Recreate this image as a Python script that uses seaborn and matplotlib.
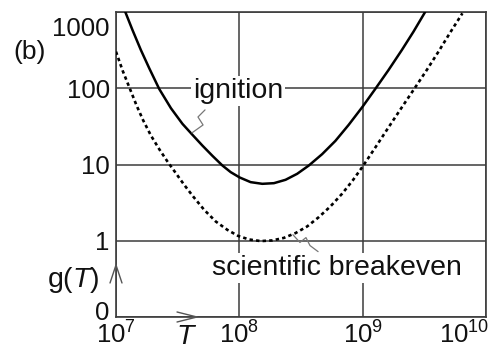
import numpy as np
import pandas as pd
import matplotlib
matplotlib.use("Agg")
import matplotlib.pyplot as plt
import matplotlib.transforms as mtransforms
import seaborn as sns

# Temperature T (K) and g(T) along the ignition curve
ign_T = [1.19e7, 1.36e7, 1.59e7, 1.86e7, 2.24e7, 2.79e7, 3.46e7, 4.12e7, 5.02e7,
         6.05e7, 7.29e7, 8.51e7, 1.006e8, 1.235e8, 1.535e8, 1.907e8, 2.37e8,
         2.944e8, 3.66e8, 4.69e8, 6.01e8, 7.70e8, 1.0e9, 1.266e9, 1.623e9,
         2.08e9, 2.584e9, 3.21e9]
ign_g = [1000, 581, 318, 183, 98, 54.7, 34.1, 25.0, 17.7,
         13.0, 9.7, 7.94, 6.76, 5.87, 5.58, 5.69, 6.30,
         7.55, 9.7, 13.66, 20.4, 33.1, 57.5, 98, 174,
         318, 553, 1000]

# Temperature T (K) and g(T) along the scientific breakeven curve
brk_T = [1.0e7, 1.132e7, 1.298e7, 1.469e7, 1.664e7, 1.919e7, 2.241e7, 2.617e7,
         3.056e7, 3.569e7, 4.221e7, 5.179e7, 6.436e7, 7.998e7, 9.755e7, 1.197e8,
         1.488e8, 1.849e8, 2.297e8, 2.854e8, 3.547e8, 4.408e8, 5.477e8, 6.806e8,
         8.30e8, 1.0e9, 1.266e9, 1.623e9, 2.08e9, 2.617e9, 3.313e9, 4.118e9,
         5.117e9, 6.436e9]
brk_g = [302, 170, 98, 59.3, 37.7, 24.0, 15.9, 10.9,
         7.70, 5.42, 3.81, 2.55, 1.79, 1.39, 1.16, 1.04,
         0.99, 1.01, 1.09, 1.26, 1.54, 2.04, 2.82, 4.13,
         6.17, 9.41, 16.7, 30.8, 56.4, 98, 174, 302,
         536, 961]

x_ticks = [1e7, 1e8, 1e9, 1e10]
x_labels = [r"$\mathregular{10^{7}}$", r"$\mathregular{10^{8}}$",
            r"$\mathregular{10^{9}}$", r"$\mathregular{10^{10}}$"]
y_ticks = [0.1, 1, 10, 100, 1000]
y_labels = ["0", "1", "10", "100", "1000"]

sns.set_theme(style="white")
plt.rcParams["font.family"] = ["Liberation Sans", "DejaVu Sans"]
plt.rcParams["mathtext.fontset"] = "custom"
plt.rcParams["mathtext.rm"] = "Liberation Sans"
plt.rcParams["mathtext.it"] = "Liberation Sans:italic"

df_ign = pd.DataFrame({"T": ign_T, "g": ign_g})
df_brk = pd.DataFrame({"T": brk_T, "g": brk_g})

fig = plt.figure(figsize=(4.88, 3.45), dpi=100)
ax = fig.add_axes([116 / 488, 28 / 345, 370 / 488, 305 / 345])

sns.lineplot(data=df_ign, x="T", y="g", ax=ax, color="black", lw=1.8,
             sort=False, estimator=None, zorder=4)
sns.lineplot(data=df_brk, x="T", y="g", ax=ax, color="black", lw=1.9,
             sort=False, estimator=None, zorder=4)
ax.lines[0].set_solid_joinstyle("round")
ax.lines[-1].set_linestyle((0, (1.3, 1.2)))

ax.set_xscale("log")
ax.set_yscale("log")
ax.set_xlim(1e7, 1e10)
ax.set_ylim(0.1, 1000)
ax.minorticks_off()
ax.set_xticks(x_ticks)
ax.set_xticklabels(x_labels)
ax.set_yticks(y_ticks)
ax.set_yticklabels(y_labels)
ax.set_xlabel("")
ax.set_ylabel("")

grid_col = "#3c3c3c"
ax.grid(True, which="major", color=grid_col, lw=1.1)
for s in ax.spines.values():
    s.set_color(grid_col)
    s.set_linewidth(1.2)
ax.tick_params(axis="both", length=0, labelsize=18.5, colors="#111111")
ax.tick_params(axis="y", pad=4.5)
ax.tick_params(axis="x", pad=3.5)

# Keep the end labels inside the frame
def shift(label, dx_px, dy_px):
    label.set_transform(label.get_transform() +
                        mtransforms.ScaledTranslation(dx_px / 100, dy_px / 100,
                                                      fig.dpi_scale_trans))

ylabs = ax.get_yticklabels()
shift(ylabs[0], 0, 6)
shift(ylabs[-1], 0, -15)
xlabs = ax.get_xticklabels()
shift(xlabs[-1], -22, 0)

# Curve names with leader lines
box = dict(boxstyle="square,pad=0.08", fc="white", ec="none")
ax.text(0.208, 0.718, "ignition", transform=ax.transAxes, fontsize=20.5,
        ha="left", va="baseline", color="#111111", bbox=box, zorder=3)
ax.text(0.2595, 0.1377, "scientific breakeven", transform=ax.transAxes,
        fontsize=20.5, ha="left", va="baseline", color="#111111", bbox=box, zorder=3)

lead_col = "#777777"
ax.plot([5.27e7, 4.62e7, 5.08e7, 4.13e7], [52, 42, 33, 26],
        color=lead_col, lw=0.9, zorder=5)
ax.plot([2.72e8, 3.1e8, 3.47e8, 3.74e8, 4.35e8], [1.2, 0.95, 1.1, 0.865, 0.72],
        color=lead_col, lw=0.9, zorder=5, clip_on=False)

# Axis arrows and axis names
arr_col = "#555555"
ax.plot([-0.0162, 0, 0.0162], [0.1115, 0.1705, 0.1115], transform=ax.transAxes,
        color=arr_col, lw=1.0, clip_on=False, zorder=5)
ax.plot([0.1649, 0.2189, 0.1649], [0.0164, 0, -0.0164], transform=ax.transAxes,
        color=arr_col, lw=1.0, clip_on=False, zorder=5)

fig.text(47 / 488, 1 - 280 / 345, r"g($\mathit{T}$)", fontsize=20.5, ha="left",
         va="center", color="#111111")
fig.text(187 / 488, 1 - 337 / 345, r"$\mathit{T}$", fontsize=20.5, ha="center",
         va="center", color="#111111")
fig.text(13 / 488, 1 - 52 / 345, "(b)", fontsize=19, ha="left", va="center",
         color="#111111")

fig.savefig("out.png", dpi=100, facecolor="white")
